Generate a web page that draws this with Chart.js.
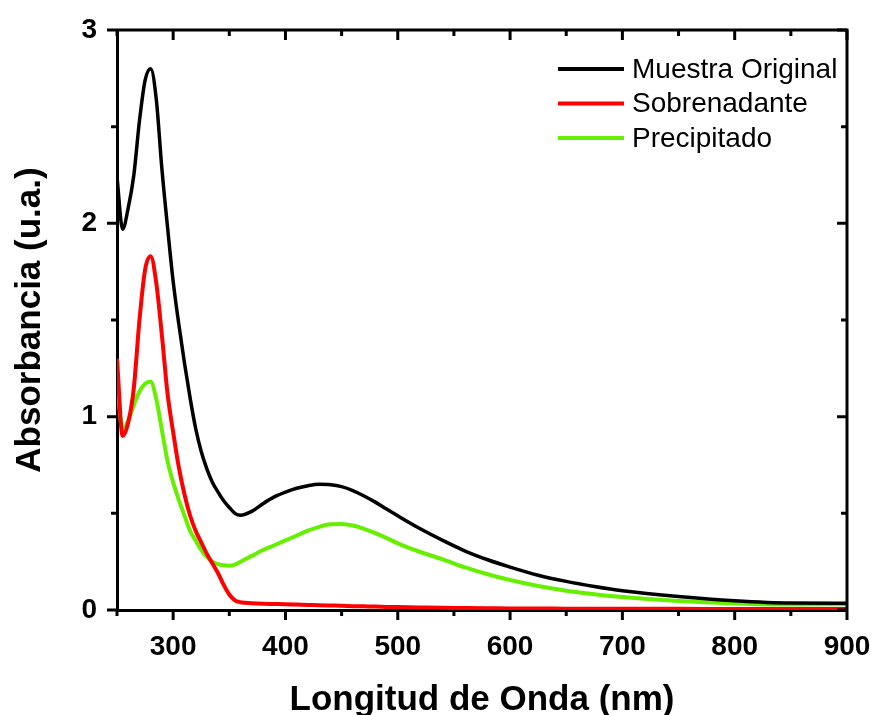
<!DOCTYPE html>
<html>
<head>
<meta charset="utf-8">
<script src="https://cdn.jsdelivr.net/npm/chart.js@4"></script>
<style>
    html, body { margin: 0; padding: 0; background: #fff; }
    #wrap { width: 873px; height: 715px; }
</style>
</head>
<body>
<div id="wrap"><canvas id="absChart" width="873" height="715"></canvas></div>
<script>
// longitudes de onda (nm)
const wavelengths = [250, 255, 260, 265, 270, 275, 280, 285, 290, 295, 300, 305, 310, 315, 320, 325, 330, 335, 340, 345, 350, 355, 360, 370, 380, 390, 400, 410, 420, 430, 440, 450, 460, 470, 480, 490, 500, 520, 540, 560, 580, 600, 625, 650, 675, 700, 750, 800, 850, 900];

const muestraOriginal = [2.24, 1.97, 2.08, 2.25, 2.53, 2.74, 2.80, 2.64, 2.28, 1.98, 1.70, 1.48, 1.28, 1.10, 0.94, 0.82, 0.73, 0.66, 0.61, 0.565, 0.53, 0.50, 0.49, 0.51, 0.55, 0.585, 0.61, 0.63, 0.643, 0.65, 0.648, 0.638, 0.618, 0.59, 0.558, 0.522, 0.487, 0.42, 0.36, 0.305, 0.26, 0.222, 0.18, 0.148, 0.122, 0.10, 0.07, 0.048, 0.036, 0.035];

const sobrenadante = [1.30, 0.90, 0.97, 1.15, 1.50, 1.76, 1.83, 1.69, 1.42, 1.12, 0.92, 0.74, 0.60, 0.49, 0.41, 0.35, 0.29, 0.24, 0.19, 0.13, 0.08, 0.05, 0.04, 0.035, 0.032, 0.031, 0.03, 0.028, 0.026, 0.024, 0.023, 0.022, 0.02, 0.019, 0.018, 0.016, 0.015, 0.013, 0.011, 0.01, 0.009, 0.008, 0.008, 0.007, 0.007, 0.006, 0.006, 0.005, 0.005, 0.005];

const precipitado = [1.18, 0.93, 0.98, 1.06, 1.13, 1.17, 1.18, 1.09, 0.93, 0.77, 0.66, 0.57, 0.49, 0.41, 0.36, 0.31, 0.275, 0.25, 0.237, 0.231, 0.229, 0.235, 0.25, 0.28, 0.31, 0.335, 0.36, 0.385, 0.41, 0.43, 0.443, 0.445, 0.437, 0.42, 0.398, 0.372, 0.345, 0.30, 0.262, 0.22, 0.185, 0.155, 0.124, 0.10, 0.082, 0.067, 0.046, 0.034, 0.028, 0.03];

const seriesNames = ['Muestra Original', 'Sobrenadante', 'Precipitado'];
const seriesColors = ['#000000', '#ff0000', '#66f000'];

const xMajorTicks = [300, 400, 500, 600, 700, 800, 900];
const yMajorTicks = [0, 1, 2, 3];

const FONT = '"Liberation Sans", Arial, sans-serif';

function toPoints(values) {
    return wavelengths.map((w, i) => ({ x: w, y: values[i] }));
}

// marco completo y marcas de escala (abajo/izquierda hacia fuera, arriba/derecha hacia dentro)
const framePlugin = {
    id: 'frameTicks',
    afterDatasetsDraw(chart) {
        const ctx = chart.ctx;
        const area = chart.chartArea;
        const xs = chart.scales.x;
        const ys = chart.scales.y;
        ctx.save();
        ctx.strokeStyle = '#000';
        ctx.lineWidth = 3;
        ctx.beginPath();
        ctx.moveTo(area.left, area.top);
        ctx.lineTo(area.right, area.top);
        ctx.lineTo(area.right, area.bottom);
        ctx.stroke();

        ctx.beginPath();
        for (let v = 250; v <= 900; v += 50) {
            const px = xs.getPixelForValue(v);
            const len = xMajorTicks.includes(v) ? 10 : 6;
            ctx.moveTo(px, area.bottom);
            ctx.lineTo(px, area.bottom + len);
            ctx.moveTo(px, area.top);
            ctx.lineTo(px, area.top + len);
        }
        for (let v = 0; v <= 3; v += 0.5) {
            const py = ys.getPixelForValue(v);
            const len = yMajorTicks.includes(v) ? 10 : 6;
            ctx.moveTo(area.left, py);
            ctx.lineTo(area.left - len, py);
            ctx.moveTo(area.right, py);
            ctx.lineTo(area.right - len, py);
        }
        ctx.stroke();
        ctx.restore();
    }
};

// leyenda dentro del area del grafico
const legendPlugin = {
    id: 'insideLegend',
    afterDatasetsDraw(chart) {
        const ctx = chart.ctx;
        const area = chart.chartArea;
        ctx.save();
        ctx.font = '28px ' + FONT;
        ctx.textBaseline = 'middle';
        ctx.fillStyle = '#000';
        chart.data.datasets.forEach((ds, i) => {
            const y = area.top + 39 + i * 34.5;
            ctx.strokeStyle = ds.borderColor;
            ctx.lineWidth = 4;
            ctx.beginPath();
            ctx.moveTo(area.right - 289, y);
            ctx.lineTo(area.right - 223, y);
            ctx.stroke();
            ctx.fillText(ds.label, area.right - 215, y + 1);
        });
        ctx.restore();
    }
};

const ctx = document.getElementById('absChart').getContext('2d');
new Chart(ctx, {
    type: 'line',
    data: {
        datasets: [
            { label: seriesNames[0], data: toPoints(muestraOriginal), borderColor: seriesColors[0], borderWidth: 3.5 },
            { label: seriesNames[1], data: toPoints(sobrenadante), borderColor: seriesColors[1], borderWidth: 4 },
            { label: seriesNames[2], data: toPoints(precipitado), borderColor: seriesColors[2], borderWidth: 4 }
        ]
    },
    options: {
        responsive: false,
        animation: false,
        devicePixelRatio: 1,
        layout: { padding: { top: 30, right: 26, left: 0, bottom: 0 } },
        elements: {
            point: { radius: 0 },
            line: { cubicInterpolationMode: 'monotone', fill: false, borderJoinStyle: 'round' }
        },
        plugins: {
            legend: { display: false },
            tooltip: { enabled: false }
        },
        scales: {
            x: {
                type: 'linear',
                min: 250,
                max: 900,
                afterFit: s => { s.height = 105; s.paddingLeft = 0; s.paddingRight = 0; },
                grid: { display: true, drawOnChartArea: false, drawTicks: false },
                border: { display: true, color: '#000', width: 3 },
                ticks: {
                    stepSize: 50,
                    padding: 20,
                    color: '#000',
                    font: { family: FONT, size: 28, weight: 'bold' },
                    maxRotation: 0,
                    autoSkip: false,
                    callback: v => xMajorTicks.includes(v) ? String(v) : ''
                },
                title: {
                    display: true,
                    text: 'Longitud de Onda (nm)',
                    color: '#000',
                    font: { family: FONT, size: 35, weight: 'bold' },
                    padding: { top: 0, bottom: -6 }
                }
            },
            y: {
                min: 0,
                max: 3,
                afterFit: s => { s.width = 117; s.paddingTop = 0; s.paddingBottom = 0; },
                grid: { display: true, drawOnChartArea: false, drawTicks: false },
                border: { display: true, color: '#000', width: 3 },
                ticks: {
                    stepSize: 0.5,
                    padding: 20,
                    color: '#000',
                    font: { family: FONT, size: 28, weight: 'bold' },
                    autoSkip: false,
                    callback: v => yMajorTicks.includes(v) ? String(v) : ''
                },
                title: {
                    display: true,
                    text: 'Absorbancia (u.a.)',
                    color: '#000',
                    font: { family: FONT, size: 35, weight: 'bold' },
                    padding: { top: 9, bottom: 0 }
                }
            }
        }
    },
    plugins: [framePlugin, legendPlugin]
});
</script>
</body>
</html>
